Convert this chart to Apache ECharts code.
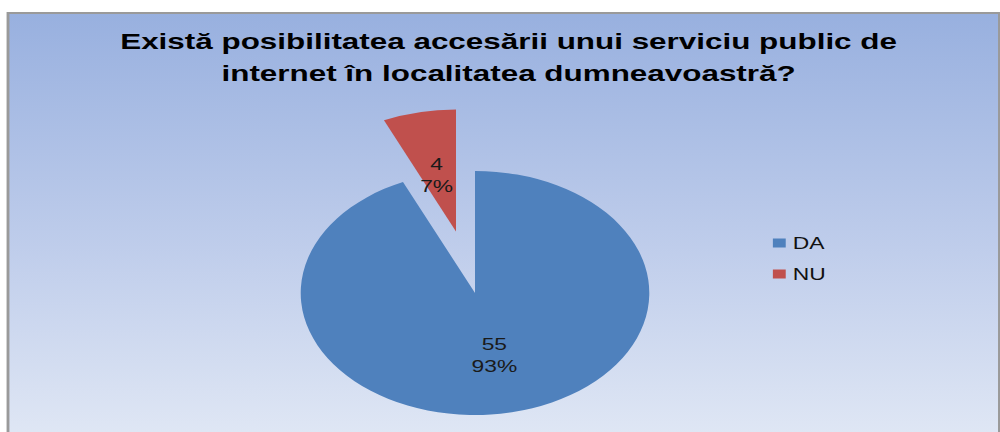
<!DOCTYPE html>
<html>
<head>
<meta charset="utf-8">
<title>Acces internet public</title>
<script src="https://cdn.jsdelivr.net/npm/echarts@6/dist/echarts.min.js"></script>
<style>
    html, body { margin: 0; padding: 0; background: #fff; overflow: hidden; }
    /* graficul original e intins pe orizontala, il desenam ingust si il intindem */
    #main { width: 700px; height: 432px; transform: scaleX(1.4286); transform-origin: 0 0; }
</style>
</head>
<body>
<div id="main"></div>
<script>
// date
var categories = ['DA', 'NU'];
var counts = [55, 4];
var explodedCat = 'NU';
var titleText = 'Există posibilitatea accesării unui serviciu public de\ninternet în localitatea dumneavoastră?';

var colors = ['#4f81bd', '#c0504d'];
var font = 'Liberation Sans, Arial, sans-serif';

var chart = echarts.init(document.getElementById('main'), null, {renderer: 'svg'});

var pieData = [];
for (var i = 0; i < categories.length; i++) {
    pieData.push({
        name: categories[i],
        value: counts[i],
        selected: categories[i] == explodedCat,
        itemStyle: {color: colors[i]}
    });
}

chart.setOption({
    animation: false,
    graphic: [{
        type: 'rect',
        silent: true,
        z: -10,
        shape: {x: 5.6, y: 13, width: 694, height: 470},
        style: {
            fill: {
                type: 'linear', x: 0, y: 0, x2: 0, y2: 1,
                colorStops: [
                    {offset: 0, color: '#98b0df'},
                    {offset: 0.5, color: '#bfcdeb'},
                    {offset: 0.92, color: '#e1e8f5'},
                    {offset: 1, color: '#e4eaf6'}
                ]
            },
            stroke: '#9a9a9a',
            lineWidth: 2
        }
    }],
    title: {
        text: titleText,
        left: 356,
        top: 25,
        textAlign: 'center',
        padding: 0,
        textStyle: {fontFamily: font, fontSize: 22, fontWeight: 'bold', color: '#000', lineHeight: 32}
    },
    legend: {
        orient: 'vertical',
        left: 536,
        top: 230,
        icon: 'rect',
        itemWidth: 9,
        itemHeight: 9,
        itemGap: 15,
        selectedMode: false,
        data: categories,
        textStyle: {fontFamily: font, fontSize: 16, color: '#111'}
    },
    series: [{
        type: 'pie',
        center: [332.5, 293],
        radius: 122,
        startAngle: 90,
        clockwise: true,
        selectedMode: 'single',
        selectedOffset: 63,
        avoidLabelOverlap: false,
        percentPrecision: 0,
        label: {
            show: true,
            position: 'inside',
            formatter: '{c}\n{d}%',
            fontFamily: font,
            fontSize: 16,
            lineHeight: 22,
            color: '#1a1a1a',
            textBorderWidth: 0
        },
        // eticheta felii scoase putin mai jos, ca in original
        labelLayout: function (params) {
            if (categories[params.dataIndex] == explodedCat) return {dy: 6};
            return {};
        },
        labelLine: {show: false},
        emphasis: {disabled: true},
        select: {itemStyle: {borderWidth: 0}},
        data: pieData
    }]
});
</script>
</body>
</html>
